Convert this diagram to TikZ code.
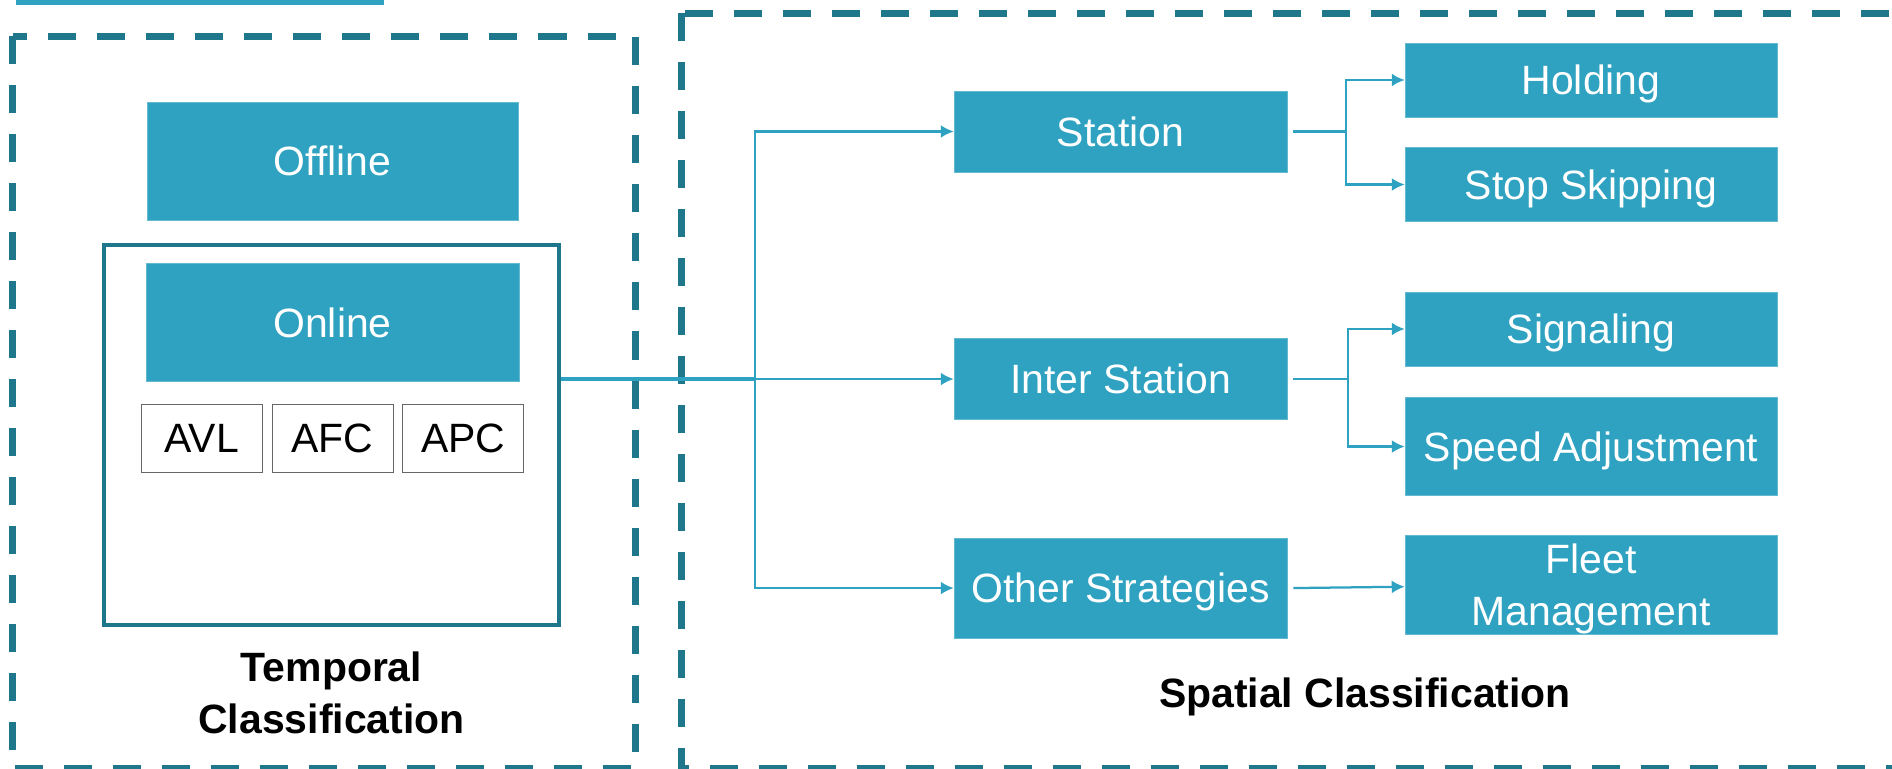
\documentclass[tikz,border=0pt]{standalone}
\usepackage{fontspec}
\setmainfont{Liberation Sans}
\usepackage{tikz}
\usetikzlibrary{%
   arrows.meta,%
   calc,%
   positioning}
\definecolor{tealfill}{RGB}{46,162,192}
\definecolor{darkteal}{RGB}{31,119,140}
\newcommand{\bigtxt}{\fontsize{23.3}{29.5}\selectfont}

\begin{document}
\begin{tikzpicture}
[x=1mm, y=1mm,
 node distance=6mm,
 font=\bigtxt,
 box/.style={draw=tealfill!75!white, fill=tealfill, text=white, line width=0.3pt, inner sep=0pt, minimum width=66.6mm, minimum height=16.2mm, align=center},
 capc/.style={text height=16.7pt, text depth=0pt},
 leaf/.style={box, minimum width=74.4mm, minimum height=14.8mm},
 src/.style={draw=black!60, line width=0.4pt, inner sep=0pt, minimum width=24.2mm, minimum height=13.6mm},
 frame/.style={draw=darkteal, line width=0.8mm},
 dframe/.style={draw=darkteal, line width=1.4mm, dash pattern=on 5.6mm off 4.2mm},
 link/.style={draw=tealfill, line width=0.45mm},
 pfeil/.style={link, -{Latex[length=2.6mm, width=2.6mm]}}]
\useasboundingbox (0,0) rectangle (378.4,-153.6);
% frames
\draw[tealfill, line width=1mm] (3.2,-0.5) -- (76.8,-0.5);
\draw[dframe] (2.5,-7.2) rectangle (127,-153.7);
\draw[dframe] (136.2,-2.6) rectangle (395,-153.7);
% temporal classification
\node (offline) [box, capc, minimum width=74.2mm, minimum height=23.6mm] at (66.5,-32.2) {Offline};
\node (onlinen) [box, capc, minimum width=74.6mm, minimum height=23.6mm, below=8.6mm of offline] {Online};
\node (afcsrc) [src, below=4.4mm of onlinen] {AFC};
\node (avlsrc) [src, left=1.8mm of afcsrc] {AVL};
\node (apcsrc) [src, right=1.8mm of afcsrc] {APC};
\node (onlinec) [frame, minimum width=91mm, minimum height=76mm] at (66.3,-87) {};
\node (temporl) [align=center, font=\bigtxt\bfseries] at (66.3,-138.6) {Temporal\\ Classification};
% spatial classification
\node (station) [box, capc] at (224.1,-26.3) {Station};
\node (intstat) [box, capc, below=33.2mm of station] {Inter Station};
\node (othstrt) [box, capc, minimum height=20mm, below=23.6mm of intstat] {Other Strategies};
\node (holding) [leaf, capc] at (318.2,-16) {Holding};
\node (stpskip) [leaf, capc, below=6mm of holding] {Stop Skipping};
\node (signals) [leaf, capc] at (318.2,-65.8) {Signaling};
\node (spdadjt) [leaf, capc, minimum height=19.6mm, below=6.2mm of signals] {Speed Adjustment};
\node (fltmgmt) [leaf, text depth=0pt, minimum height=19.8mm] at (318.2,-116.9) {Fleet\\ Management};
\node (spatial) [anchor=base, font=\bigtxt\bfseries] at (273,-141.4) {Spatial Classification};
\coordinate (split) at ($(intstat.west)+(-39.8,0)$);
\coordinate (stjoint) at ($(station.east)+(11.8,0)$);
\coordinate (isjoint) at ($(intstat.east)+(12.2,0)$);
\draw[link, line width=0.8mm] (onlinec.east |- intstat) -- (split);
\draw[pfeil] (split) -- (intstat);
\draw[pfeil] (split) |- (station);
\draw[pfeil] (split) |- (othstrt);
\draw[link] ([xshift=1.2mm]station.east) -- (stjoint);
\draw[pfeil] (stjoint) |- (holding);
\draw[pfeil] (stjoint) |- (stpskip);
\draw[link] ([xshift=1.2mm]intstat.east) -- (isjoint);
\draw[pfeil] (isjoint) |- (signals);
\draw[pfeil] (isjoint) |- (spdadjt);
\draw[pfeil] ([xshift=1.2mm]othstrt.east) -- (fltmgmt);
\end{tikzpicture}
\end{document}
